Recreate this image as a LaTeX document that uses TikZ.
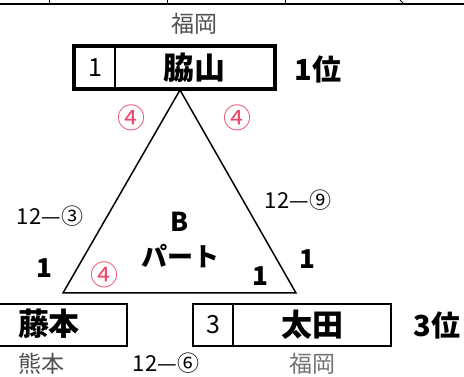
\documentclass[tikz,border=0pt]{standalone}
\usepackage{fontspec}
\setmainfont{Noto Sans CJK JP}
\usetikzlibrary{positioning}
\definecolor{circred}{RGB}{236,74,108}
\definecolor{placegray}{RGB}{80,80,80}

\tikzset{
  cell/.style={draw, line width=1.3pt, minimum height=42pt, inner sep=0pt, font=\fontsize{25}{25}\selectfont},
  namecell/.style={cell, font=\fontsize{31}{31}\selectfont\bfseries},
  place/.style={font=\fontsize{23}{23}\selectfont, text=placegray},
  score/.style={font=\fontsize{22}{22}\selectfont},
  win/.style={font=\fontsize{26}{26}\selectfont\bfseries},
  circ/.style={font=\fontsize{28}{28}\selectfont, text=circred},
  rank/.style={font=\fontsize{29}{29}\selectfont\bfseries},
}

\begin{document}
\begin{tikzpicture}[x=1pt, y=-1pt]
    \useasboundingbox (0,0) rectangle (464,377);

    % edge of the table above
    \draw[line width=1.5pt] (0,4) -- (464,4);
    \foreach \tx in {49,167,285}
        \draw[line width=1pt] (\tx,0) -- (\tx,4);
    \draw[line width=1pt] (400,0) -- (404,4);

    % 1st place
    \node[place] (topplace) at (194,24) {福岡};
    \node[cell, minimum width=40pt] (topnum) at (95,67.5) {1};
    \node[namecell, minimum width=159pt] (topname) at (194.5,67.5) {脇山};
    \draw[line width=4pt] (topnum.north west) rectangle (topname.south east);
    \node[rank] (toprank) at (318,69) {1位};

    % triangle
    \coordinate (apex) at (180,90);
    \coordinate (left) at (63,293);
    \coordinate (right) at (296,293);
    \draw[line width=1.5pt] (apex) -- (left) -- (right) -- cycle;
    \node[win] (partb) at (180,222) {B};
    \node[win] (part) at (180,256) {パート};

    \node[circ] (lefttop) at (131,118) {④};
    \node[circ] (righttop) at (237,118) {④};
    \node[circ] (leftin) at (104,275) {④};
    \node[score] (leftscore) at (50,216) {12—③};
    \node[score] (rightscore) at (298,200) {12—⑨};
    \node[win] (leftwin) at (44,268) {1};
    \node[win] (rightwin) at (307,259) {1};
    \node[win] (inwin) at (260,276) {1};

    % bottom left
    \node[namecell, minimum width=129pt] (leftname) at (62.5,325) {};
    \node[font=\fontsize{31}{31}\selectfont\bfseries] (fujimoto) at (49,324) {藤本};
    \node[place] (leftplace) at (42,364) {熊本};
    \node[score] (bottomscore) at (166,363) {12—⑥};

    % 3rd place
    \node[cell, minimum width=40pt] (rightnum) at (213,325) {3};
    \node[namecell, minimum width=158pt] (rightname) at (312,325) {太田};
    \node[rank] (rightrank) at (437,325) {3位};
    \node[place, text=black!55] (rightplace) at (312,364) {福岡};
\end{tikzpicture}
\end{document}
